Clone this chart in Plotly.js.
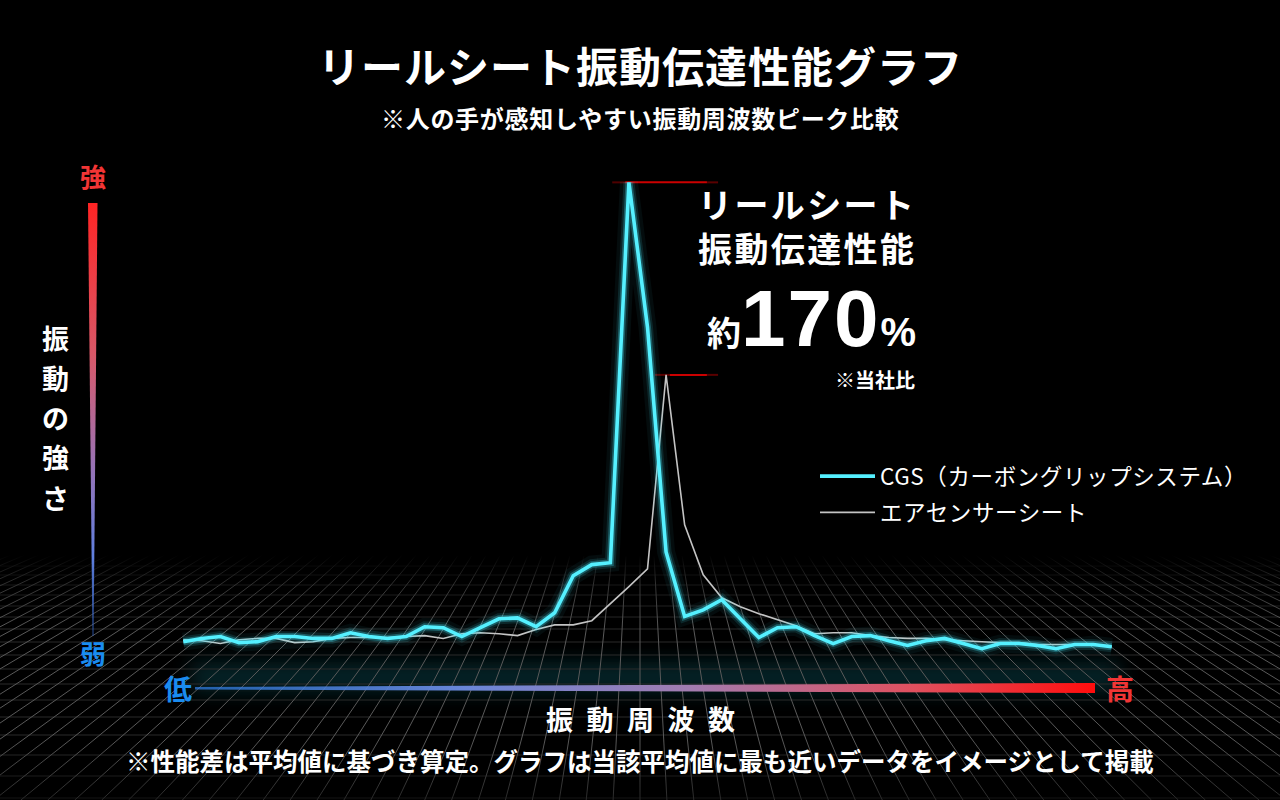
<!DOCTYPE html>
<html>
<head>
<meta charset="utf-8">
<script src="https://cdn.plot.ly/plotly-3.0.1.min.js"></script>
<style>
  html, body { margin: 0; padding: 0; background: #000; }
  #chart { width: 1280px; height: 800px; }
</style>
</head>
<body>
<div id="chart"></div>
<script>
// vibration strength per frequency band (low -> high), 100 = CGS peak
const cgs = [1.7, 2.4, 2.8, 1.5, 1.7, 2.8, 2.8, 2.4, 2.4, 3.6,
  2.8, 2.4, 2.8, 4.9, 4.7, 2.8, 4.7, 6.6, 6.8, 4.9,
  7.9, 15.8, 18.2, 18.6, 100, 69, 20.9, 7.1, 8.5, 10.7,
  6.6, 2.6, 4.7, 4.9, 3.0, 1.3, 2.8, 3.0, 1.9, 0.9,
  1.9, 2.4, 1.3, 0.2, 1.3, 1.3, 0.9, 0.2, 1.1, 1.1, 0.6];
const air = [2.1, 1.9, 1.3, 2.1, 2.4, 2.4, 1.5, 1.7, 2.4, 2.6,
  2.6, 2.6, 2.8, 3.0, 2.4, 3.4, 3.6, 3.4, 3.0, 4.3,
  5.3, 5.3, 6.2, 9.8, 13.5, 17.3, 58.8, 26.7, 16.0, 11.1,
  9.2, 7.7, 6.4, 5.1, 3.4, 3.6, 3.6, 3.0, 2.6, 2.4,
  2.4, 2.1, 1.9, 1.7, 1.5, 1.5, 1.1, 1.1, 1.1, 1.1, 0.6];
const bands = cgs.map((_, i) => i);
const seriesNames = ["CGS（カーボングリップシステム）", "エアセンサーシート"];

const L = 174, R = 159, T = 159, B = 127;
const W = 1280 - L - R, H = 800 - T - B;
const px = v => (v - L) / W;
const py = v => (800 - B - v) / H;

const JP = '"Noto Sans CJK JP", "Noto Sans", sans-serif';
const CYAN = "#55f0ff";
const RED = "#f23535";
const BLUE = "#1a8cf0";
const spaced = (s, ls) => `<span style="letter-spacing:${ls}px">${s}</span>`;

// floor grid, gradient axis bars: one svg decoration behind the plot
function decoSvg() {
  const top = 555, bot = 800, vx = 640, vy = 290, step = 19;
  let diag = "";
  for (let k = -52; k <= 52; k++) {
    const xa = vx + k * step * (top - vy) / (650 - vy);
    const xb = vx + k * step * (bot - vy) / (650 - vy);
    diag += `<line x1="${xa.toFixed(1)}" y1="${top}" x2="${xb.toFixed(1)}" y2="${bot}"/>`;
  }
  const rows = [566, 575, 585, 595, 606, 617, 629, 642, 655, 669, 684, 700, 717, 735, 755, 776, 798];
  let hor = rows.map(y => `<line x1="0" y1="${y}" x2="1280" y2="${y}"/>`).join("");
  return `<svg xmlns="http://www.w3.org/2000/svg" width="1280" height="800" viewBox="0 0 1280 800">
<defs>
<linearGradient id="fade" x1="0" y1="${top}" x2="0" y2="${bot}" gradientUnits="userSpaceOnUse">
<stop offset="0" stop-color="#fff" stop-opacity="0"/>
<stop offset="0.12" stop-color="#fff" stop-opacity="0.55"/>
<stop offset="0.3" stop-color="#fff" stop-opacity="1"/>
<stop offset="0.75" stop-color="#fff" stop-opacity="1"/>
<stop offset="1" stop-color="#fff" stop-opacity="0.45"/>
</linearGradient>
<mask id="m"><rect x="0" y="${top}" width="1280" height="${bot - top}" fill="url(#fade)"/></mask>
<linearGradient id="vbar" x1="0" y1="0" x2="0" y2="1">
<stop offset="0" stop-color="#ff2424"/>
<stop offset="0.35" stop-color="#d85868"/>
<stop offset="0.6" stop-color="#9a72b4"/>
<stop offset="0.82" stop-color="#5f80e0"/>
<stop offset="1" stop-color="#2f5fc0" stop-opacity="0.6"/>
</linearGradient>
<linearGradient id="hbar" x1="0" y1="0" x2="1" y2="0">
<stop offset="0" stop-color="#2f7fe8" stop-opacity="0.7"/>
<stop offset="0.3" stop-color="#6a86d8"/>
<stop offset="0.55" stop-color="#a27cb0"/>
<stop offset="0.8" stop-color="#e0505e"/>
<stop offset="1" stop-color="#ff0d0d"/>
</linearGradient>
<filter id="blur" x="-10%" y="-100%" width="120%" height="300%"><feGaussianBlur stdDeviation="10"/></filter>
</defs>
<rect x="190" y="662" width="930" height="30" fill="#0a5a64" opacity="0.4" filter="url(#blur)"/>
<g mask="url(#m)">
<g stroke="#2a2a2a" stroke-width="1">${hor}</g>
<g stroke="#5a5a5a" stroke-width="1">${diag}</g>
</g>
<polygon points="88,203 97.5,203 93.6,636 92.4,636" fill="url(#vbar)"/>
<polygon points="195,687 195,689.5 1095,693 1095,683" fill="url(#hbar)"/>
</svg>`;
}

function note(text, x, y, size, extra) {
  return Object.assign({
    text: text, xref: "paper", yref: "paper", x: px(x), y: py(y),
    xanchor: "center", yanchor: "middle", showarrow: false,
    font: { family: JP, size: size, color: "#fff", weight: 700 },
  }, extra || {});
}

const glow = (width, alpha) => ({
  x: bands, y: cgs, type: "scatter", mode: "lines",
  line: { color: `rgba(70,235,255,${alpha})`, width: width },
  hoverinfo: "skip", showlegend: false,
});

const data = [
  {
    x: bands, y: air, name: spaced(seriesNames[1], 0.6), type: "scatter", mode: "lines",
    line: { color: "#c4c4c4", width: 1.6 }, legendgroup: "b", legendrank: 2,
  },
  glow(18, 0.05),
  glow(11, 0.12),
  glow(7, 0.28),
  {
    x: bands, y: cgs, name: spaced(seriesNames[0], 0.6), type: "scatter", mode: "lines",
    line: { color: CYAN, width: 3.6 }, legendgroup: "a", legendrank: 1,
  },
];

const cgsPeak = Math.max(...cgs);
const airPeak = Math.max(...air);
const peakLine = (x0, x1, y, a) => ({
  type: "line", xref: "x", yref: "y", x0: x0, x1: x1, y0: y, y1: y,
  line: { color: `rgba(225,0,0,${a})`, width: 2 }, layer: "below",
});

const ratio = Math.round(cgsPeak / airPeak * 100);
const bigNum = "約" +
  `<span style="font-size:80px;letter-spacing:2px;font-family:'Liberation Sans',Arial,sans-serif">${ratio}</span>` +
  `<span style="font-size:40px;font-family:'Liberation Sans',Arial,sans-serif">%</span>`;

const annotations = [
  note(spaced("リールシート振動伝達性能グラフ", 1), 640, 65, 42),
  note(spaced("※人の手が感知しやすい振動周波数ピーク比較", 0.7), 640, 117, 24),
  note(spaced("リールシート", 2.4) + "<br>" + spaced("振動伝達性能", 2.4), 918, 225, 34,
    { xanchor: "right", align: "right" }),
  note(bigNum, 918, 272, 34, { xanchor: "right", yanchor: "top" }),
  note("※当社比", 917, 363, 20, { xanchor: "right", yanchor: "top" }),
  note("強", 93, 175, 26, { font: { family: JP, size: 26, color: RED, weight: 700 } }),
  note("弱", 93, 652, 26, { font: { family: JP, size: 26, color: BLUE, weight: 700 } }),
  note("低", 178, 688, 28, { font: { family: JP, size: 28, color: BLUE, weight: 700 } }),
  note("高", 1120, 688, 28, { font: { family: JP, size: 28, color: RED, weight: 700 } }),
  note("振\u2002動\u2002周\u2002波\u2002数", 640, 718, 27),
  note("※性能差は平均値に基づき算定。グラフは当該平均値に最も近いデータをイメージとして掲載", 640, 760, 24.5),
];
"振動の強さ".split("").forEach((ch, i) => {
  annotations.push(note(ch, 55, 337 + i * 40, 27));
});

const layout = {
  width: 1280, height: 800,
  margin: { l: L, r: R, t: T, b: B, pad: 0 },
  paper_bgcolor: "#000", plot_bgcolor: "rgba(0,0,0,0)",
  xaxis: { range: [-0.5, 50.5], visible: false, fixedrange: true },
  yaxis: { range: [-5, 105], visible: false, fixedrange: true },
  showlegend: true,
  legend: {
    x: px(815), y: py(455), xanchor: "left", yanchor: "top",
    bgcolor: "rgba(0,0,0,0)", tracegroupgap: 4, itemwidth: 55,
    font: { family: JP, size: 22.5, color: "#fff" },
  },
  shapes: [
    peakLine(23.1, 23.8, cgsPeak, 0.35), peakLine(23.8, 28.2, cgsPeak, 0.9), peakLine(28.2, 28.8, cgsPeak, 0.4),
    peakLine(25.4, 26.2, airPeak, 0.4), peakLine(26.2, 28.2, airPeak, 0.9), peakLine(28.2, 28.8, airPeak, 0.4),
  ],
  images: [{
    source: "data:image/svg+xml;charset=utf-8," + encodeURIComponent(decoSvg()),
    xref: "paper", yref: "paper", x: px(0), y: py(0),
    sizex: 1280 / W, sizey: 800 / H, xanchor: "left", yanchor: "top",
    sizing: "stretch", layer: "below",
  }],
  annotations: annotations,
};

Plotly.newPlot("chart", data, layout, { displayModeBar: false, staticPlot: true });
</script>
</body>
</html>
